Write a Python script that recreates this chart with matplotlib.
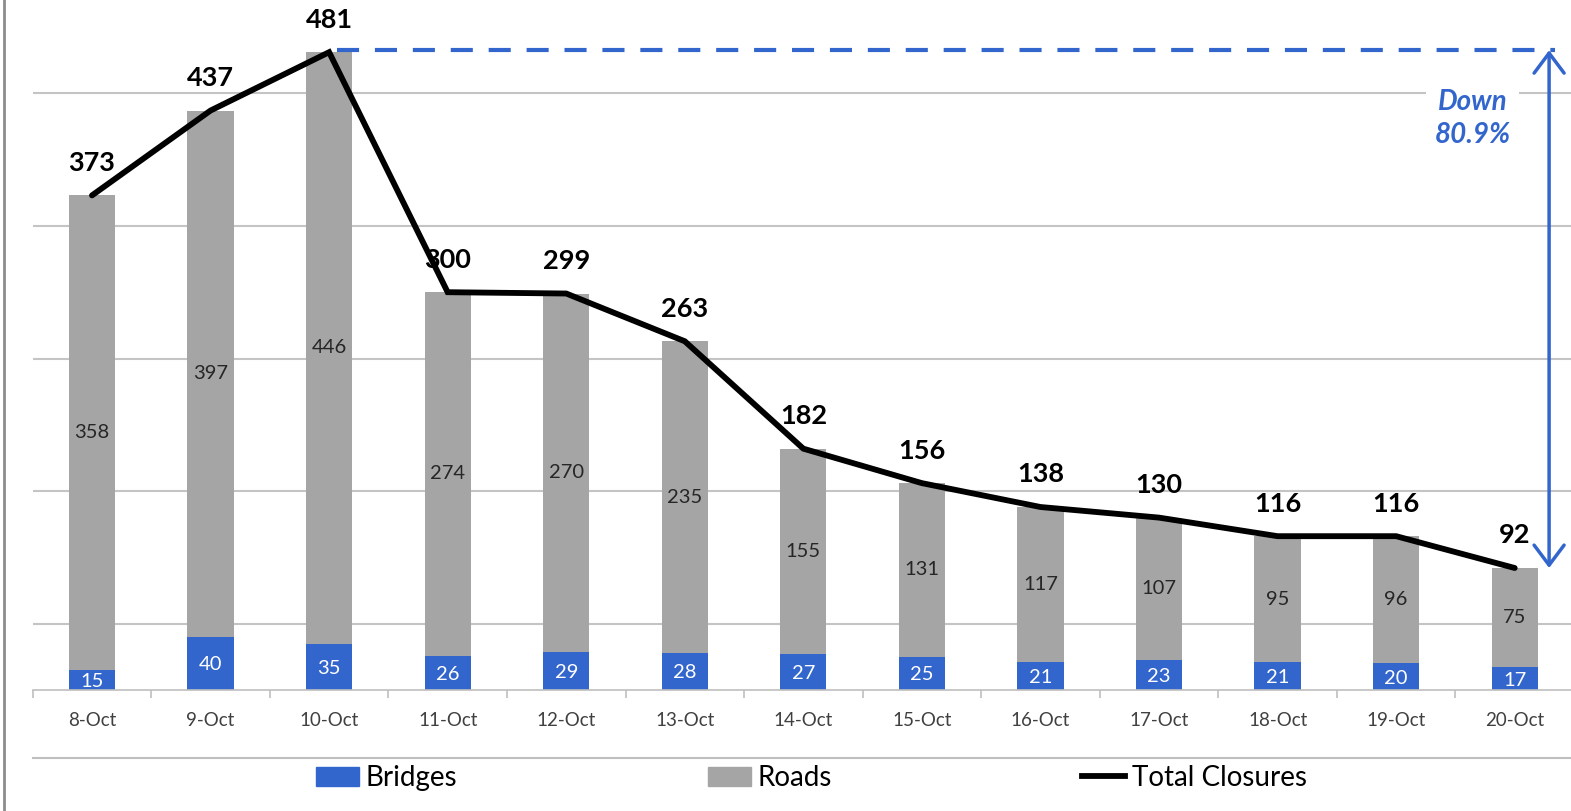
import numpy as np
import matplotlib
matplotlib.use("Agg")
import matplotlib.pyplot as plt
from matplotlib.lines import Line2D
from matplotlib.patches import Patch

plt.rcParams['font.family'] = ['Lato', 'DejaVu Sans']

dates = ['8-Oct', '9-Oct', '10-Oct', '11-Oct', '12-Oct', '13-Oct', '14-Oct',
         '15-Oct', '16-Oct', '17-Oct', '18-Oct', '19-Oct', '20-Oct']
bridges = [15, 40, 35, 26, 29, 28, 27, 25, 21, 23, 21, 20, 17]
roads = [358, 397, 446, 274, 270, 235, 155, 131, 117, 107, 95, 96, 75]
totals = [373, 437, 481, 300, 299, 263, 182, 156, 138, 130, 116, 116, 92]

blue = '#3366CC'
grey = '#A5A5A5'
grid_c = '#C4C4C4'

W, H = 1571, 811
fig = plt.figure(figsize=(W / 100, H / 100), dpi=100)
# plot area: x from 32.7px to 1574px, zero line at 690px, 1.326 px per unit
ax = fig.add_axes([32.7 / W, (H - 690) / H, (1574 - 32.7) / W, 690 / H])
ax.set_xlim(-0.5, 12.5)
ax.set_ylim(0, 690 / 1.326)

x = np.arange(len(dates))
ax.set_yticks([50, 150, 250, 350, 450])
ax.yaxis.grid(True, color=grid_c, lw=1.5)
ax.set_axisbelow(True)
ax.tick_params(axis='y', length=0, labelleft=False)
for s in ['top', 'right', 'left']:
    ax.spines[s].set_visible(False)
ax.spines['bottom'].set_color('#BFBFBF')
ax.spines['bottom'].set_linewidth(1.2)

ax.set_xticks(x)
ax.set_xticklabels(dates, fontsize=13.5, color='#404040')
ax.set_xticks(np.arange(-0.5, 13, 1), minor=True)
ax.tick_params(axis='x', which='major', length=0, pad=16)
ax.tick_params(axis='x', which='minor', length=6, color='#BFBFBF', width=1.2)

w = 0.39
ax.bar(x, bridges, w, color=blue, label='Bridges')
ax.bar(x, roads, w, bottom=bridges, color=grey, label='Roads')
ax.plot(x, totals, color='black', lw=4.2, solid_joinstyle='miter',
        solid_capstyle='round', label='Total Closures', clip_on=False)

for i in range(len(dates)):
    ax.text(x[i], bridges[i] / 2 - 1, str(bridges[i]), ha='center', va='center',
            color='white', fontsize=14.5)
    ax.text(x[i], bridges[i] + roads[i] / 2, str(roads[i]), ha='center',
            va='center', color='#262626', fontsize=14.5)
    ax.annotate(str(totals[i]), (x[i], totals[i]), xytext=(0, 23.5),
                textcoords='offset points', ha='center', va='center',
                fontsize=19.5, fontweight='bold', color='black',
                annotation_clip=False)

# dashed reference line from the peak and the "down" arrow
peak = max(totals)
ax.plot([2.07, 12.34], [peak + 1.5, peak + 1.5], color=blue, lw=3,
        dashes=(5.3, 3.8), clip_on=False)
ax.annotate('', xy=(12.29, totals[-1]), xytext=(12.29, peak + 1.5),
            arrowprops=dict(arrowstyle='<->,head_length=0.6,head_width=0.45',
                            color=blue, lw=2.5, shrinkA=0, shrinkB=0,
                            mutation_scale=24),
            annotation_clip=False)
drop = (peak - totals[-1]) / peak * 100
ax.text(11.645, 431, 'Down\n%.1f%%' % drop, ha='center', va='center',
        color=blue, fontsize=20, fontweight='bold', fontstyle='italic',
        linespacing=1.3,
        bbox=dict(facecolor='white', edgecolor='none', pad=6))

# frame pieces of the chart area
fig.add_artist(Line2D([33 / W, 1.0], [(H - 758) / H] * 2, color='#BFBFBF', lw=1.5))
fig.add_artist(Line2D([4 / W, 4 / W], [0, 1], color='#8C8C8C', lw=2))

handles = [Patch(color=blue), Patch(color=grey),
           Line2D([], [], color='black', lw=4.2)]
fig.legend(handles, ['Bridges', 'Roads', 'Total Closures'], loc='center left',
           bbox_to_anchor=(316 / W, (H - 778) / H), ncol=3, frameon=False,
           fontsize=20, handlelength=1.55, handleheight=0.65, handletextpad=0.25,
           columnspacing=9.0, borderpad=0, borderaxespad=0)

fig.savefig('out.png', dpi=100)
